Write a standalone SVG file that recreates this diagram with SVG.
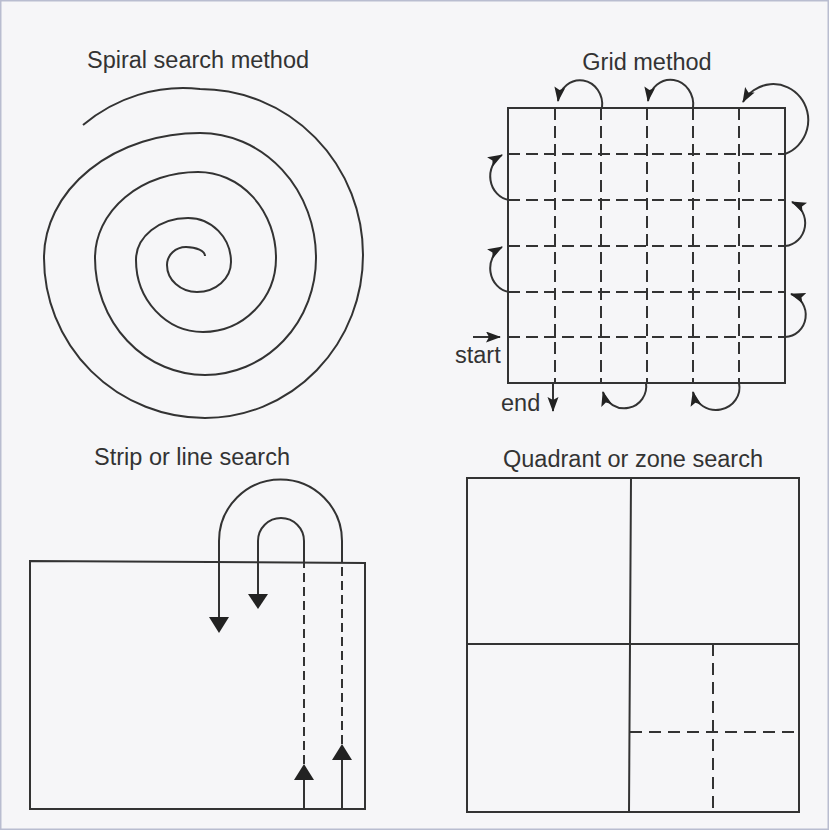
<svg xmlns="http://www.w3.org/2000/svg" width="829" height="830" viewBox="0 0 829 830">
<defs>
<style>
.ln{fill:none;stroke:#333;stroke-width:2}
.ds{fill:none;stroke:#333;stroke-width:2;stroke-dasharray:12 6}
.ds2{fill:none;stroke:#333;stroke-width:2;stroke-dasharray:9 5}
.ds3{fill:none;stroke:#333;stroke-width:2;stroke-dasharray:12 7}
.cv{fill:none;stroke:#333;stroke-width:2;marker-end:url(#ah)}
.tx{font-family:"Liberation Sans",Arial,sans-serif;font-size:23.5px;fill:#333}
.tri{fill:#222}
</style>
<marker id="ah" markerUnits="userSpaceOnUse" markerWidth="16" markerHeight="12" refX="14" refY="5.5" orient="auto">
<path d="M0,0 L15,5.5 L0,11 L3,5.5 z" fill="#222"/>
</marker>
</defs>
<rect x="0.5" y="0.5" width="828" height="829" fill="#f6f6f8" stroke="#b9bdd0" stroke-width="2"/>

<g id="spiral">
<text class="tx" x="198" y="68" text-anchor="middle">Spiral search method</text>
<path class="ln" d="M83,125 A160,168 0 0 1 200,89 A163,166 0 0 1 363,255 A158,163 0 0 1 205,418 A161,160 0 0 1 44,258 A156,125 0 0 1 200,133 A116,125 0 0 1 316,258 A111,117 0 0 1 205,375 A110,117 0 0 1 95,258 A103,86 0 0 1 198,172 A78,86 0 0 1 276,258 A73,74 0 0 1 203,332 A67,72 0 0 1 136,260 A52,42 0 0 1 188,218 A43,44 0 0 1 231,262 A34,30 0 0 1 197,292 A30,27 0 0 1 167,265 A19,18 0 0 1 186,247 A19,9 0 0 1 205,256"/>
</g>

<g id="grid">
<text class="tx" x="647" y="70" text-anchor="middle">Grid method</text>
<rect class="ln" x="508" y="108" width="277" height="275"/>
<path class="ds" d="M508,154 H785 M508,200 H785 M508,246 H785 M508,292 H785 M508,337 H785"/>
<path class="ds" d="M555,108 V383 M601,108 V383 M647,108 V383 M693,108 V383 M739,108 V383"/>
<text class="tx" x="455" y="363">start</text>
<text class="tx" x="501" y="411">end</text>
</g>

<g id="strip">
<text class="tx" x="192" y="465" text-anchor="middle">Strip or line search</text>
<path class="ln" d="M30,561 L365,563 L365,809 L30,809 Z"/>
</g>

<g id="quadrant">
<text class="tx" x="633" y="467" text-anchor="middle">Quadrant or zone search</text>
<rect class="ln" x="467" y="478" width="332" height="334"/>
<path class="ln" d="M631,478 L629,812 M467,644 H799"/>
<path class="ds3" d="M713,644 V812 M630,732 H799"/>
</g>

<g id="connectors">
<path class="cv" d="M473,337 H500"/>
<path class="cv" d="M785,337 A21,22 0 0 0 791,294"/>
<path class="cv" d="M509,292 A22,24 0 0 1 502,247"/>
<path class="cv" d="M785,246 A22,23 0 0 0 792,202"/>
<path class="cv" d="M509,200 A22,24 0 0 1 502,155"/>
<path class="cv" d="M785,154 A35,36 0 1 0 743,102"/>
<path class="cv" d="M739,383 A23,22 0 0 1 693,392"/>
<path class="cv" d="M693,108 A22,24 0 0 0 648,101"/>
<path class="cv" d="M646,383 A22,22 0 0 1 603,392"/>
<path class="cv" d="M602,108 A22,24 0 0 0 558,101"/>
<path class="cv" d="M553,383 V411"/>
<path class="ln" d="M342,809 V758"/>
<polygon class="tri" points="332,760 352,760 342,744"/>
<path class="ds2" d="M342,744 V563"/>
<path class="ln" d="M342,563 V541 A61.5,61.5 0 0 0 219,541 V618"/>
<polygon class="tri" points="209,617 229,617 219,633"/>
<path class="ln" d="M304,809 V778"/>
<polygon class="tri" points="294,780 314,780 304,764"/>
<path class="ds2" d="M304,764 V563"/>
<path class="ln" d="M304,563 V541 A23,23 0 0 0 258,541 V595"/>
<polygon class="tri" points="248,594 268,594 258,609"/>
</g>
</svg>
